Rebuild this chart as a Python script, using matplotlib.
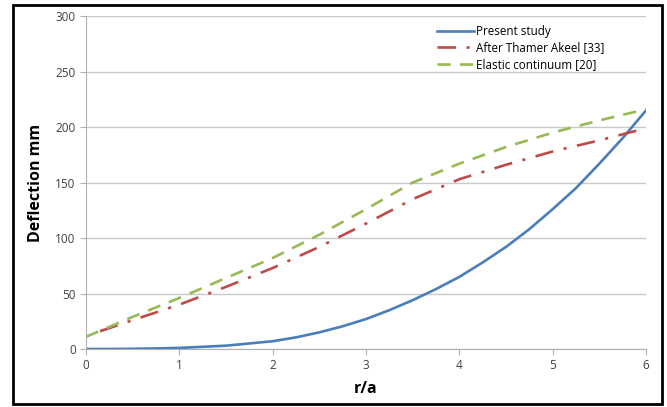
import matplotlib.pyplot as plt
from matplotlib.patches import Rectangle

# r/a positions
r_present = [0, 0.25, 0.5, 0.75, 1, 1.25, 1.5, 1.75, 2, 2.25, 2.5, 2.75, 3,
             3.25, 3.5, 3.75, 4, 4.25, 4.5, 4.75, 5, 5.25, 5.5, 5.75, 6]
present = [0, 0, 0.2, 0.5, 1, 2, 3, 5, 7, 10.5, 15, 20.5, 27,
           35, 44, 54, 65, 78, 92, 108, 126, 145, 167, 190, 215]

r = [0, 0.5, 1, 1.5, 2, 2.5, 3, 3.5, 4, 4.5, 5, 5.5, 6]
elastic = [11, 29, 46, 64, 82, 103, 126, 150, 167, 182, 195, 206, 216]

r_thamer = [0.15, 0.5, 1, 1.5, 2, 2.5, 3, 3.5, 4, 4.5, 5, 5.5, 6]
thamer = [16, 26, 40, 56, 73, 92, 113, 135, 153, 166, 178, 188, 199]

xticks = [0, 1, 2, 3, 4, 5, 6]
yticks = [0, 50, 100, 150, 200, 250, 300]

plt.rcParams['font.family'] = ['Open Sans', 'DejaVu Sans']

fig = plt.figure(figsize=(6.67, 4.07), dpi=100)
ax = fig.add_axes([0.129, 0.1425, 0.8395, 0.818])

ax.plot(r_present, present, color='#4a7ebb', lw=1.9, label='Present study')
ax.plot(r_thamer, thamer, color='#be4b48', lw=1.9, dashes=(7, 4, 1.2, 4),
        label='After Thamer Akeel [33]')
ax.plot(r, elastic, color='#98b954', lw=1.9, dashes=(5, 3.5),
        label='Elastic continuum [20]')

ax.set_xlim(0, 6)
ax.set_ylim(0, 300)
ax.set_xticks(xticks)
ax.set_yticks(yticks)
ax.grid(axis='y', color='#c8c8c8', lw=1)
ax.set_axisbelow(True)

for s in ['top', 'right']:
    ax.spines[s].set_visible(False)
for s in ['left', 'bottom']:
    ax.spines[s].set_color('#b0b0b0')
ax.tick_params(colors='#b0b0b0', labelcolor='#404040', labelsize=8.5, length=4)

ax.set_xlabel('r/a', fontsize=11.5, fontweight='bold', labelpad=6)
ax.set_ylabel('Deflection mm', fontsize=11.5, fontweight='bold', labelpad=8)

ax.legend(loc='upper right', bbox_to_anchor=(0.945, 1.005), frameon=False,
          fontsize=8.4, handlelength=3.2, handletextpad=0.2, labelspacing=0.3)

# black frame around the whole chart
fig.patches.append(Rectangle((0.02, 0.008), 0.972, 0.98, transform=fig.transFigure,
                             fill=False, edgecolor='black', lw=2))

fig.savefig('out.png', dpi=100)
